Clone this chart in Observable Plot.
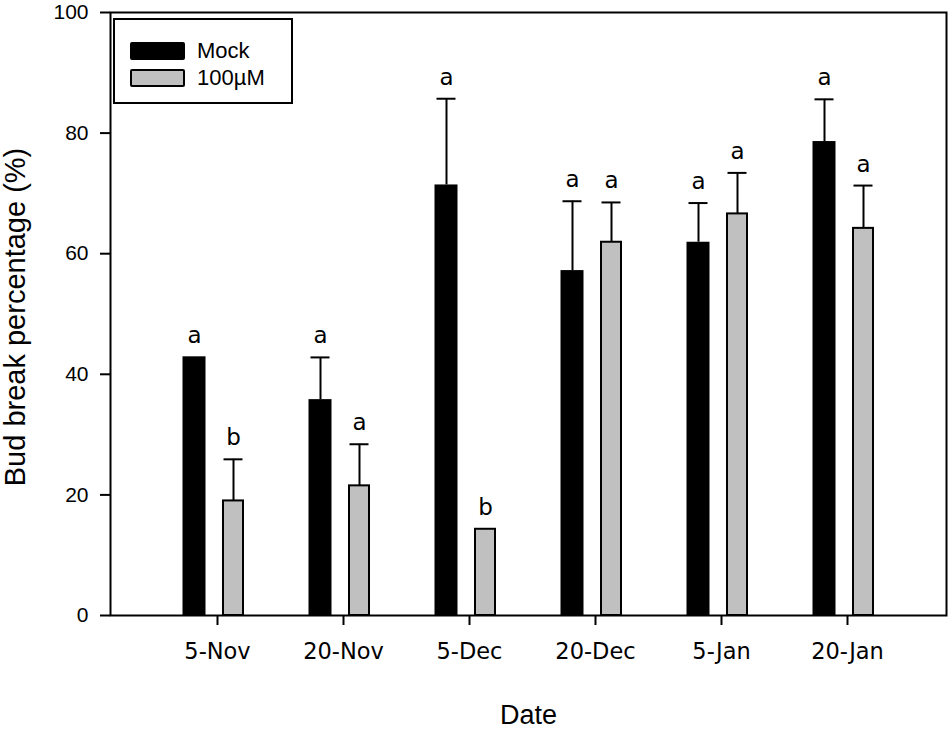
<!DOCTYPE html>
<html>
<head>
<meta charset="utf-8">
<script src="https://cdn.jsdelivr.net/npm/d3@7"></script>
<script src="https://cdn.jsdelivr.net/npm/@observablehq/plot@0.6"></script>
<style>
  html, body { margin: 0; padding: 0; background: #fff; }
  #wrap { position: relative; width: 950px; height: 729px; }
  #legend {
    position: absolute; left: 113px; top: 18px; width: 176px; height: 82px;
    border: 2px solid #000; background: #fff;
    font-family: "Liberation Sans", Arial, sans-serif; font-size: 22px; color: #000;
  }
  .row { position: absolute; left: 15px; display: flex; align-items: center; }
  .sw { width: 55px; height: 18px; box-sizing: border-box; border: 2px solid #000; border-radius: 2px; margin-right: 12px; }
</style>
</head>
<body>
<div id="wrap">
  <div id="chart"></div>
  <div id="legend">
    <div class="row" style="top:18px"><div class="sw" style="background:#000"></div><span>Mock</span></div>
    <div class="row" style="top:45px"><div class="sw" style="background:#c0c0c0"></div><span>100µM</span></div>
  </div>
</div>
<script>
const dates = ["5-Nov", "20-Nov", "5-Dec", "20-Dec", "5-Jan", "20-Jan"];
const treatments = ["Mock", "100µM"];
const mockValues = [42.9, 35.8, 71.4, 57.2, 61.9, 78.6];
const mockErrors = [0, 7.0, 14.3, 11.5, 6.5, 7.0];
const mockLetters = ["a", "a", "a", "a", "a", "a"];
const treatValues = [19.0, 21.5, 14.3, 61.9, 66.6, 64.2];
const treatErrors = [6.9, 6.9, 0, 6.6, 6.8, 7.1];
const treatLetters = ["b", "a", "b", "a", "a", "a"];
const yTicks = [0, 20, 40, 60, 80, 100];

const mock = dates.map((d, i) => ({date: d, treatment: treatments[0], value: mockValues[i], err: mockErrors[i], letter: mockLetters[i]}));
const treat = dates.map((d, i) => ({date: d, treatment: treatments[1], value: treatValues[i], err: treatErrors[i], letter: treatLetters[i]}));

const upper = d => d.value + d.err;
const tickFont = "DejaVu Sans, sans-serif";
const arial = "Liberation Sans, Arial, sans-serif";

function series(data, opt) {
  return [
    Plot.barY(data, {x: "date", y: "value", fill: opt.fill, stroke: opt.stroke, strokeWidth: opt.sw, insetLeft: opt.bl, insetRight: opt.br}),
    Plot.ruleX(data.filter(d => d.err > 0), {x: "date", y1: "value", y2: upper, dx: opt.dx, stroke: "#000", strokeWidth: 2}),
    Plot.tickY(data.filter(d => d.err > 0), {x: "date", y: upper, insetLeft: opt.cl, insetRight: opt.cr, stroke: "#000", strokeWidth: 2}),
    Plot.text(data, {x: "date", y: upper, text: "letter", dx: opt.dx, dy: -14, lineAnchor: "bottom", fontSize: 23, fontFamily: tickFont, fill: "#000"})
  ];
}

const chart = Plot.plot({
  width: 950,
  height: 729,
  marginLeft: 110,
  marginRight: 4,
  marginTop: 12,
  marginBottom: 114,
  x: {domain: dates, paddingInner: 0, paddingOuter: 0.295, axis: null},
  y: {domain: [0, 100], axis: null},
  marks: [
    ...series(mock, {fill: "#000", stroke: "none", sw: 0, bl: 32.5, br: 70.5, dx: -19, cl: 34.5, cr: 72.5}),
    ...series(treat, {fill: "#c0c0c0", stroke: "#000", sw: 2, bl: 73, br: 33, dx: 20, cl: 73.5, cr: 33.5}),
    Plot.axisY({ticks: yTicks, tickSize: 10, tickPadding: 12, strokeWidth: 2, fontSize: 21, fontFamily: arial, label: null, fill: "#000"}),
    Plot.axisX({tickSize: 10, tickPadding: 18, strokeWidth: 2, fontSize: 22.5, fontFamily: tickFont, label: null, dx: 4, fill: "#000"}),
    Plot.frame({stroke: "#000", strokeWidth: 2}),
    Plot.text(["Bud break percentage (%)"], {frameAnchor: "left", rotate: -90, dx: -86, dy: 3, lineAnchor: "bottom", textAnchor: "middle", fontSize: 29, fontFamily: arial, fill: "#000"}),
    Plot.text(["Date"], {frameAnchor: "bottom", dy: 108, lineAnchor: "bottom", fontSize: 27, fontFamily: arial, fill: "#000"})
  ]
});
document.getElementById("chart").appendChild(chart);
</script>
</body>
</html>
